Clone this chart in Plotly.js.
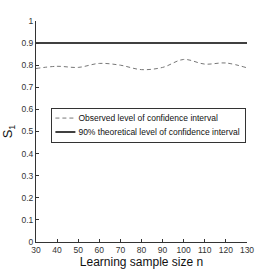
<!DOCTYPE html>
<html><head><meta charset="utf-8">
<script src="https://cdn.plot.ly/plotly-3.0.1.min.js"></script>
<style>body{margin:0;padding:0;background:#fff}#chart{width:273px;height:273px}</style>
</head><body><div id="chart"></div>
<script>
const sampleSize = [30, 40, 50, 60, 70, 80, 90, 100, 110, 120, 130];
const observedLevel = [0.785, 0.795, 0.79, 0.808, 0.80, 0.78, 0.79, 0.826, 0.805, 0.81, 0.788];
const theoreticalX = [30, 130];
const theoreticalLevel = [0.9, 0.9];
const xTicks = [30, 40, 50, 60, 70, 80, 90, 100, 110, 120, 130];
const yTicks = [0, 0.1, 0.2, 0.3, 0.4, 0.5, 0.6, 0.7, 0.8, 0.9, 1];
const yTickText = ['0', '0.1', '0.2', '0.3', '0.4', '0.5', '0.6', '0.7', '0.8', '0.9', '1'];

const fnt = 'Liberation Sans, Arial, sans-serif';
const traces = [
  {x: sampleSize, y: observedLevel, mode: 'lines', name: 'Observed level of confidence interval',
   line: {color: '#777777', width: 1, dash: '4px,3px', shape: 'spline'}},
  {x: theoreticalX, y: theoreticalLevel, mode: 'lines', name: '90% theoretical level of confidence interval',
   line: {color: '#000000', width: 1.5}}
];
const layout = {
  width: 273, height: 273,
  margin: {l: 35.5, r: 25.5, t: 21, b: 31},
  paper_bgcolor: '#fff', plot_bgcolor: '#fff',
  font: {family: fnt, size: 9, color: '#222'},
  showlegend: true,
  legend: {x: 0.073, y: 0.606, xanchor: 'left', yanchor: 'top', bordercolor: '#333', borderwidth: 1,
           bgcolor: '#fff', font: {family: fnt, size: 8.5, color: '#111'}, itemwidth: 30,
           tracegroupgap: 0, traceorder: 'normal'},
  xaxis: {range: [30, 130], tickvals: xTicks, ticks: 'inside', ticklen: 3, tickcolor: '#333',
          showline: true, linecolor: '#333', linewidth: 1, showgrid: false, zeroline: false,
          tickfont: {family: fnt, size: 8.5, color: '#333'},
          title: {text: 'Learning sample size n', font: {family: fnt, size: 12, color: '#111'}, standoff: 1}},
  yaxis: {range: [0, 1], tickvals: yTicks, ticktext: yTickText, ticks: 'inside', ticklen: 3, tickcolor: '#333',
          showline: true, linecolor: '#333', linewidth: 1, showgrid: false, zeroline: false,
          tickfont: {family: fnt, size: 8.5, color: '#333'},
          title: {text: 'S<sub>1</sub>', font: {family: fnt, size: 13, color: '#111'}, standoff: 5}}
};
Plotly.newPlot('chart', traces, layout, {staticPlot: true, displayModeBar: false}).then(function () {
  // compact the legend box like the reference (shorter samples, tighter rows)
  const lg = document.querySelector('#chart .legend');
  if (!lg) return;
  const rows = lg.querySelectorAll('g.traces');
  let maxRight = 0;
  rows.forEach(function (g, i) {
    g.setAttribute('transform', 'translate(1,' + (10 + 14 * i) + ')');
    const t = g.querySelector('text.legendtext');
    if (t) {
      t.setAttribute('x', 26);
      t.querySelectorAll('tspan').forEach(function (s) { if (s.hasAttribute('x')) s.setAttribute('x', 26); });
      const bb = t.getBBox();
      maxRight = Math.max(maxRight, bb.x + bb.width);
    }
    g.querySelectorAll('g.legendlines path').forEach(function (p) { p.setAttribute('d', 'M3,0h20'); });
  });
  const bg = lg.querySelector('rect.bg');
  if (bg) {
    bg.setAttribute('width', Math.ceil(maxRight + 6));
    bg.setAttribute('height', 34);
  }
  lg.querySelectorAll('clipPath rect').forEach(function (r) {
    r.setAttribute('width', Math.ceil(maxRight + 6));
    r.setAttribute('height', 34);
  });
});
</script></body></html>
